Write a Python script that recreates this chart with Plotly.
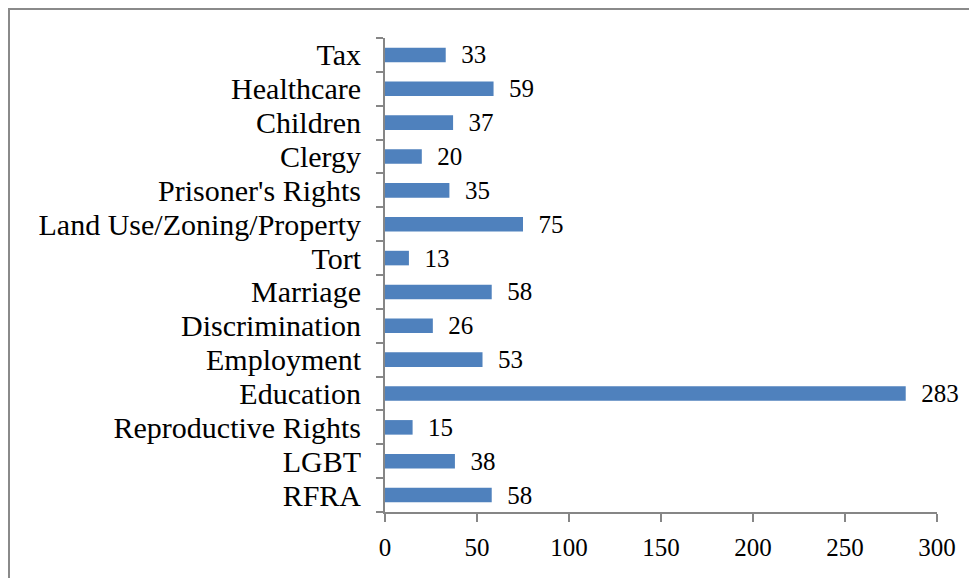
import plotly.graph_objects as go

categories = ["Tax", "Healthcare", "Children", "Clergy", "Prisoner's Rights",
              "Land Use/Zoning/Property", "Tort", "Marriage", "Discrimination",
              "Employment", "Education", "Reproductive Rights", "LGBT", "RFRA"]
values = [33, 59, 37, 20, 35, 75, 13, 58, 26, 53, 283, 15, 38, 58]
x_ticks = [0, 50, 100, 150, 200, 250, 300]

# page has an 8px body margin; figure occupies page x 8..977, y 8..578
W, H = 969, 570
L, R, T, B = 377, 40, 30, 66
pw, ph = W - L - R, H - T - B

FONT = "Liberation Serif"
AX = "#868686"

fig = go.Figure(go.Bar(
    y=categories, x=values, orientation="h",
    marker=dict(color="#4F81BD", line=dict(width=0)),
    texttemplate="\u00a0\u00a0%{x}", textposition="outside", cliponaxis=False,
    constraintext="none",
    textfont=dict(family=FONT, size=25, color="black"),
))

fig.update_layout(
    width=W, height=H,
    margin=dict(l=L, r=R, t=T, b=B, pad=0),
    paper_bgcolor="white", plot_bgcolor="white",
    bargap=0.57, showlegend=False,
    font=dict(family=FONT, color="black"),
    xaxis=dict(range=[0, 300], tickvals=x_ticks, showgrid=False, zeroline=False,
               showline=True, linecolor=AX, linewidth=2,
               ticks="outside", ticklen=8, tickwidth=2, tickcolor=AX,
               tickfont=dict(family=FONT, size=25), ticklabelstandoff=4),
    yaxis=dict(autorange="reversed", showgrid=False, zeroline=False,
               tickmode="array", tickvals=categories,
               showline=True, linecolor=AX, linewidth=2,
               ticks="outside", ticklen=7, tickwidth=2, tickcolor=AX,
               tickson="boundaries",
               tickfont=dict(family=FONT, size=30), ticklabelstandoff=16),
    shapes=[dict(type="rect", xref="paper", yref="paper",
                 x0=(1 - L) / pw, x1=2, y0=-1, y1=1 + (T - 1) / ph,
                 line=dict(color="#8a8a8a", width=2), fillcolor="rgba(0,0,0,0)",
                 layer="below")],
)

fig.write_html("out.html")
